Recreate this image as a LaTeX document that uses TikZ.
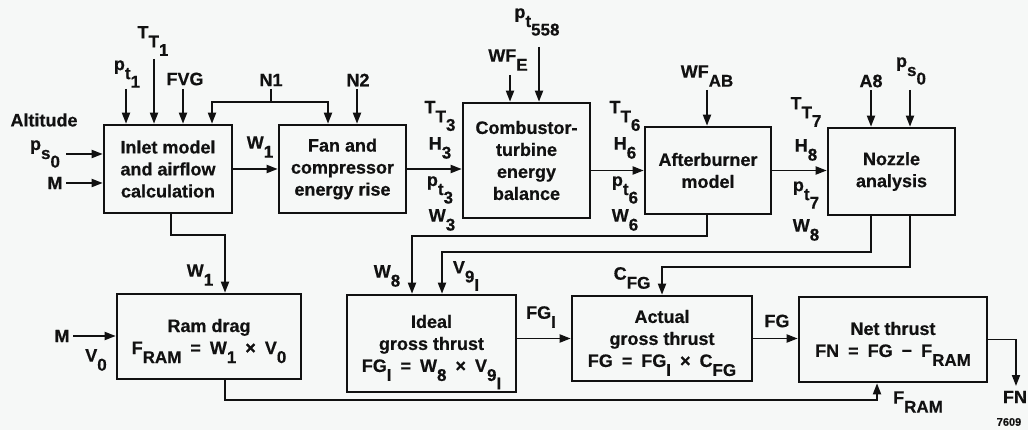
\documentclass[tikz,border=0pt]{standalone}
\usepackage{fontspec}
\setmainfont{Liberation Sans}[BoldFeatures={FakeBold=0.5}]
\usetikzlibrary{arrows.meta,calc}
\definecolor{bg}{RGB}{246,248,247}
\definecolor{ink}{RGB}{17,17,17}
\newcommand{\sbs}[1]{\raisebox{-0.5em}{\fontsize{17}{17}\selectfont #1}}
\newcommand{\zsb}[1]{\raisebox{-0.5em}[\height][0pt]{\fontsize{17}{17}\selectfont #1}}
\newcommand{\op}[1]{\hspace{9pt}#1\hspace{9pt}}
\tikzset{
  every node/.style={font=\bfseries\fontsize{18}{22}\selectfont, text=ink, inner sep=0pt},
  blk/.style={draw=ink, line width=2.6pt, align=center},
  arr/.style={draw=ink, line width=1.8pt, -{Triangle[length=11pt,width=8pt]}},
  ln/.style={draw=ink, line width=1.8pt},
  tiny/.style={font=\bfseries\fontsize{11}{12}\selectfont}
}
\begin{document}
\begin{tikzpicture}[x=1pt,y=-1pt]
\fill[bg] (0,0) rectangle (1028,430);
\useasboundingbox (0,0) rectangle (1028,430);

% boxes
\node[blk,minimum width=128pt,minimum height=88pt] (inlet) at (168,169) {Inlet model\\and airflow\\calculation};
\node[blk,minimum width=127pt,minimum height=88pt] (fan) at (342.5,169) {Fan and\\compressor\\energy rise};
\node[blk,minimum width=127pt,minimum height=115pt] (comb) at (526.5,160.5) {Combustor-\\turbine\\energy\\balance};
\node[blk,minimum width=126pt,minimum height=87pt] (ab) at (708,170.5) {Afterburner\\model};
\node[blk,minimum width=127pt,minimum height=87pt] (noz) at (891.5,171.5) {Nozzle\\analysis};
\node[blk,minimum width=184pt,minimum height=85pt] (ram) at (209,336.5) {Ram drag\\F\zsb{RAM}\op{=}W\zsb{1}\op{×}V\zsb{0}};
\node[blk,minimum width=169pt,minimum height=97pt] (ideal) at (431.5,343.5) {Ideal\\gross thrust\\FG\zsb{I}\op{=}W\zsb{8}\op{×}V\zsb{9\zsb{I}}};
\node[blk,minimum width=180pt,minimum height=85pt] (actual) at (662,338.5) {Actual\\gross thrust\\FG\op{=}FG\zsb{I}\op{×}C\zsb{FG}};
\node[blk,minimum width=188pt,minimum height=85pt] (net) at (893,339.5) {Net thrust\\FN\op{=}FG\op{−}F\zsb{RAM}};

% labels
\node (altitude) at (44,120) {Altitude};
\node (ps0a) at (45,154) {p\sbs{s\sbs{0}}};
\node (ma) at (55,183) {M};
\node (pt1) at (127,74) {p\sbs{t\sbs{1}}};
\node (tt1) at (153,41) {T\sbs{T\sbs{1}}};
\node (fvg) at (185,79) {FVG};
\node (n1) at (271,80) {N1};
\node (n2) at (358,80) {N2};
\node (w1a) at (260,147) {W\sbs{1}};
\node (tt3) at (440,116) {T\sbs{T\sbs{3}}};
\node (h3) at (440,148) {H\sbs{3}};
\node (pt3) at (440,190) {p\sbs{t\sbs{3}}};
\node (w3) at (442,220) {W\sbs{3}};
\node (wfe) at (508,60) {WF\sbs{E}};
\node (pt558) at (537,22) {p\sbs{t\sbs{558}}};
\node (tt6) at (625,116) {T\sbs{T\sbs{6}}};
\node (h6) at (625,148) {H\sbs{6}};
\node (pt6) at (625,190) {p\sbs{t\sbs{6}}};
\node (w6) at (625,220) {W\sbs{6}};
\node (wfab) at (707,76) {WF\sbs{AB}};
\node (tt7) at (806,112) {T\sbs{T\sbs{7}}};
\node (h8) at (806,150) {H\sbs{8}};
\node (pt7) at (806,195) {p\sbs{t\sbs{7}}};
\node (w8a) at (806,230) {W\sbs{8}};
\node (a8) at (871,81) {A8};
\node (ps0b) at (911,71) {p\sbs{s\sbs{0}}};
\node (w1b) at (200,275) {W\sbs{1}};
\node (mb) at (62,336) {M};
\node (v0) at (96,360) {V\sbs{0}};
\node (fram) at (918,402) {F\sbs{RAM}};
\node (w8b) at (387,276) {W\sbs{8}};
\node (v9i) at (466,276) {V\sbs{9\sbs{I}}};
\node (cfg) at (632,278) {C\sbs{FG}};
\node (fgi) at (541,317) {FG\sbs{I}};
\node (fg) at (777,321) {FG};
\node (fn) at (1015,397) {FN};
\node[tiny] (num) at (1009,422) {7609};

% free ends
\coordinate (cps0) at (66,154);
\coordinate (cm) at (66,183);
\coordinate (cpt1) at (126,89);
\coordinate (ctt1) at (154,59);
\coordinate (cfvg) at (183,89);
\coordinate (cn1) at (271,89);
\coordinate (bus1) at (212,102);
\coordinate (bus2) at (328,102);
\coordinate (cn2) at (357,89);
\coordinate (cwfe) at (510,75);
\coordinate (cpt558) at (539,47);
\coordinate (cwfab) at (707,90);
\coordinate (ca8) at (871,90);
\coordinate (cps0b) at (910,90);
\coordinate (cmr) at (73,336);
\coordinate (k1) at (225,235);
\coordinate (k2) at (225,400);
\coordinate (k2b) at (877,400);
\coordinate (k3) at (412,236);
\coordinate (k4a) at (871,252);
\coordinate (k4) at (442,252);
\coordinate (k5a) at (910,267);
\coordinate (k5) at (662,267);
\coordinate (fnend) at (1016,386);

% top inputs
\draw[arr] (cps0) -- (cps0 -| inlet.west);
\draw[arr] (cm) -- (cm -| inlet.west);
\draw[arr] (cpt1) -- (cpt1 |- inlet.north);
\draw[arr] (ctt1) -- (ctt1 |- inlet.north);
\draw[arr] (cfvg) -- (cfvg |- inlet.north);
\draw[ln] (cn1) -- (cn1 |- bus1);
\draw[arr] (cn1 |- bus1) -- (bus1) -- (bus1 |- inlet.north);
\draw[arr] (cn1 |- bus1) -- (bus2) -- (bus2 |- fan.north);
\draw[arr] (cn2) -- (cn2 |- fan.north);
\draw[arr] (cwfe) -- (cwfe |- comb.north);
\draw[arr] (cpt558) -- (cpt558 |- comb.north);
\draw[arr] (cwfab) -- (cwfab |- ab.north);
\draw[arr] (ca8) -- (ca8 |- noz.north);
\draw[arr] (cps0b) -- (cps0b |- noz.north);

% main chain
\draw[arr] (inlet.east) -- (fan.west);
\draw[arr] (fan.east) -- (fan.east -| comb.west);
\draw[arr] (comb.east |- ab.west) -- (ab.west);
\draw[arr] (ab.east) -- (ab.east -| noz.west);

% lower connections
\draw[arr] ([xshift=3pt]inlet.south) |- (k1) -- (k1 |- ram.north);
\draw[arr] (cmr) -- (cmr -| ram.west);
\draw[arr] (k2 |- ram.south) -- (k2) -- (k2b) -- (k2b |- net.south);
\draw[arr] ([xshift=-1pt]ab.south) |- (k3) -- (k3 |- ideal.north);
\draw[arr] (k4a |- noz.south) -- (k4a) -- (k4) -- (k4 |- ideal.north);
\draw[arr] (k5a |- noz.south) -- (k5a) -- (k5) -- (k5 |- actual.north);
\draw[arr] (ideal.east |- actual.west) -- (actual.west);
\draw[arr] (actual.east) -- (actual.east -| net.west);
\draw[arr] (net.east) -| (fnend);
\end{tikzpicture}
\end{document}
